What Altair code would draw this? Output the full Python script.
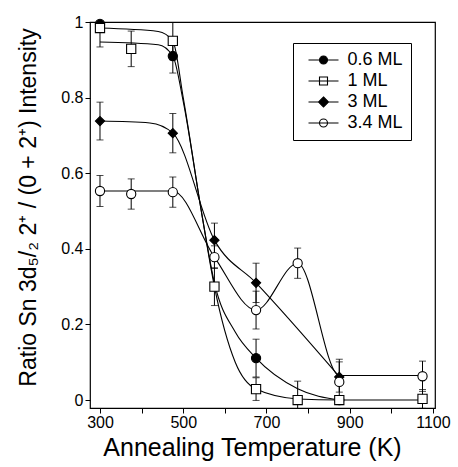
import altair as alt
import pandas as pd

series_names = ["0.6 ML", "1 ML", "3 ML", "3.4 ML"]

# measured points (temperature K, ratio, +/- error)
t_06 = [300, 475, 675, 875]
r_06 = [0.995, 0.91, 0.111, 0.0]
e_06 = [0.01, 0.045, 0.05, 0.01]

t_1 = [300, 375, 475, 575, 675, 775, 875, 1075]
r_1 = [0.984, 0.929, 0.95, 0.30, 0.029, 0.0, 0.0, 0.003]
e_1 = [0.05, 0.047, 0.05, 0.05, 0.03, 0.05, 0.01, 0.025]

t_3 = [300, 475, 575, 675, 875]
r_3 = [0.738, 0.706, 0.423, 0.31, 0.061]
e_3 = [0.05, 0.052, 0.045, 0.052, 0.04]

t_34 = [300, 375, 475, 575, 675, 775, 875, 1075]
r_34 = [0.553, 0.545, 0.55, 0.378, 0.238, 0.362, 0.048, 0.063]
e_34 = [0.041, 0.04, 0.04, 0.03, 0.05, 0.04, 0.06, 0.04]

# guide curves as drawn in the figure
ft_06 = [300, 440, 475, 500, 545, 575, 625, 675, 775, 875]
fr_06 = [0.947, 0.94, 0.91, 0.79, 0.49, 0.31, 0.18, 0.111, 0.03, 0.0]

ft_1 = [300, 440, 475, 500, 545, 575, 625, 675, 775, 875, 1075]
fr_1 = [0.984, 0.975, 0.95, 0.80, 0.49, 0.30, 0.10, 0.029, 0.003, 0.0, 0.0]

ft_3 = [300, 420, 475, 575, 675, 875]
fr_3 = [0.738, 0.733, 0.706, 0.423, 0.31, 0.062]

ft_34 = [300, 475, 575, 675, 775, 875, 1075]
fr_34 = [0.553, 0.553, 0.378, 0.238, 0.362, 0.065, 0.065]

x_ticks = [300, 400, 500, 600, 700, 800, 900, 1000, 1100]
y_ticks = [0, 0.2, 0.4, 0.6, 0.8, 1.0]

rows = []
for name, ts, rs, es in zip(series_names, [t_06, t_1, t_3, t_34],
                            [r_06, r_1, r_3, r_34], [e_06, e_1, e_3, e_34]):
    for t, r, e in zip(ts, rs, es):
        rows.append({"series": name, "T": t, "R": r, "lo": r - e, "hi": r + e})
df = pd.DataFrame(rows)

frows = []
for name, ts, rs in zip(series_names, [ft_06, ft_1, ft_3, ft_34], [fr_06, fr_1, fr_3, fr_34]):
    for t, r in zip(ts, rs):
        frows.append({"series": name, "T": t, "R": r})
fdf = pd.DataFrame(frows)

FONT = "Liberation Sans"

x_enc = alt.X("T:Q", scale=alt.Scale(domain=[276, 1105], nice=False, zero=False),
              axis=alt.Axis(values=x_ticks, title="Annealing Temperature (K)",
                            labelExpr="datum.value % 200 == 100 ? datum.label : ''",
                            format="d", titleX=162, titleY=47, titleBaseline="alphabetic"))
y_enc = alt.Y("R:Q", scale=alt.Scale(domain=[-0.021, 1.0], nice=False, zero=False),
              axis=alt.Axis(values=y_ticks, format="~g",
                            title="Ratio Sn 3d₅/₂ 2⁺ / (0 + 2⁺) Intensity",
                            titleX=-55, titleY=185, titleBaseline="alphabetic"))

lines = alt.Chart(fdf).mark_line(interpolate="monotone", color="black", strokeWidth=1.1, clip=True).encode(
    x=x_enc, y=y_enc, detail="series:N")

bars = alt.Chart(df).mark_rule(color="black", strokeWidth=1, clip=True).encode(
    x="T:Q", y="lo:Q", y2="hi:Q")
cap_lo = alt.Chart(df).mark_tick(orient="horizontal", size=7, thickness=1, color="black", clip=True).encode(
    x="T:Q", y="lo:Q")
cap_hi = alt.Chart(df).mark_tick(orient="horizontal", size=7, thickness=1, color="black", clip=True).encode(
    x="T:Q", y="hi:Q")

points = alt.Chart(df).mark_point(filled=True, stroke="black", strokeWidth=1.1, size=85, opacity=1).encode(
    x="T:Q", y="R:Q",
    shape=alt.Shape("series:N", scale=alt.Scale(domain=series_names,
                                                 range=["circle", "square", "diamond", "circle"]),
                    legend=None),
    fill=alt.Fill("series:N", scale=alt.Scale(domain=series_names,
                                               range=["black", "white", "black", "white"]),
                  legend=None),
)

legend_paths = [
    "M-3,0H3M0.8,0A0.8,0.8 0 1 1 -0.8,0A0.8,0.8 0 1 1 0.8,0Z",
    "M-3,0H3M-0.8,-0.8H0.8V0.8H-0.8Z",
    "M-3,0H3M0,-1L1,0L0,1L-1,0Z",
    "M-3,0H3M0.8,0A0.8,0.8 0 1 1 -0.8,0A0.8,0.8 0 1 1 0.8,0Z",
]
leg = alt.Legend(orient="none", legendX=203, legendY=21, title=None,
                 strokeColor="black", fillColor="white", padding=8,
                 labelFont=FONT, labelFontSize=18, labelColor="black",
                 symbolSize=100, symbolStrokeWidth=1.1, symbolStrokeColor="black",
                 symbolOffset=13.5, labelOffset=15, rowPadding=3)
legend_layer = alt.Chart(df).transform_filter("datum.T < 0").mark_point(
    filled=True, strokeWidth=1.1, size=100, opacity=1).encode(
    x="T:Q", y="R:Q",
    shape=alt.Shape("series:N", scale=alt.Scale(domain=series_names, range=legend_paths), legend=leg),
    fill=alt.Fill("series:N", scale=alt.Scale(domain=series_names,
                                               range=["black", "white", "black", "white"]), legend=leg),
    stroke=alt.Stroke("series:N", scale=alt.Scale(domain=series_names,
                                                   range=["black", "black", "black", "black"]), legend=leg),
)

chart = alt.layer(lines, bars, cap_lo, cap_hi, points, legend_layer).resolve_scale(
    shape="independent", fill="independent", stroke="independent"
).properties(
    width=345, height=386,
    padding={"left": 90, "top": 22, "right": 23, "bottom": 59},
    autosize=alt.AutoSizeParams(type="none"),
    background="white",
).configure_view(stroke="black", strokeWidth=1.2).configure_axis(
    grid=False, domain=False, tickColor="black", tickSize=5, tickWidth=1,
    labelFont=FONT, labelFontSize=16, labelColor="black", labelPadding=1,
    titleFont=FONT, titleFontWeight="normal", titleColor="black",
).configure_axisY(titleFontSize=23, labelPadding=2).configure_axisX(titleFontSize=25)

chart.save("out.html", embed_options={"renderer": "svg", "actions": False})
